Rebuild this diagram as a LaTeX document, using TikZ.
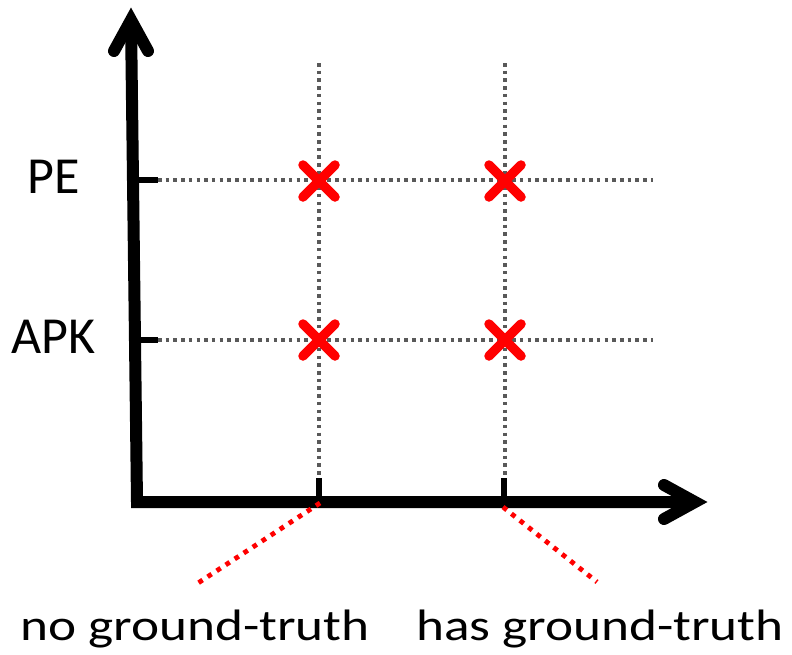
\documentclass[tikz,border=0pt]{standalone}
\usepackage{fontspec}
\setmainfont{Carlito}
\definecolor{dotgray}{RGB}{89,89,89}
\begin{document}
\begin{tikzpicture}[x=1pt,y=-1pt,
  axis/.style={line width=12pt,line cap=butt,line join=miter},
  head/.style={line width=12pt,line cap=round,line join=miter,miter limit=10},
  tickmark/.style={line width=6pt},
  gridline/.style={line width=3.5pt,color=dotgray,dash pattern=on 3.5pt off 4.2pt},
  cross/.style={line width=9.5pt,color=red,line cap=round},
  link/.style={line width=4.8pt,color=red,dash pattern=on 4.8pt off 6pt},
  lab/.style={font=\fontsize{52}{60}\selectfont,anchor=base,inner sep=0pt},
  cat/.style={font=\fontsize{44}{52}\selectfont,anchor=base,inner sep=0pt,xscale=1.21}]
\useasboundingbox[fill=white] (0,0) rectangle (792,654);
% axes
\coordinate (O) at (137,502);
\coordinate (ytop) at (131,20);
\coordinate (xend) at (695,502);
\draw[axis] (ytop) -- (O) -- (xend);
\draw[head] (114,51) -- (ytop) -- (148,51);
\draw[head] (664,485) -- (xend) -- (664,519);
% dotted grid
\draw[gridline] (158,180) -- (653,180);
\draw[gridline] (158,340) -- (653,340);
\draw[gridline] (319,63) -- (319,478);
\draw[gridline] (505,63) -- (505,478);
% ticks
\draw[tickmark] (134,180) -- (158,180);
\draw[tickmark] (135,340) -- (158,340);
\draw[tickmark] (319,478) -- (319,497);
\draw[tickmark] (504,478) -- (504,497);
% crosses
\foreach \cx/\cy in {319/181,505/181,319/340,505/340}{
  \draw[cross] (\cx,\cy) ++(-16,-16) -- ++(32,32) (\cx,\cy) ++(16,-16) -- ++(-32,32);
}
% labels
\node[lab] (pe) at (53.5,193) {PE};
\node[lab] (apk) at (53.5,353) {APK};
\node[cat] (nogt) at (195,640) {no ground-truth};
\node[cat] (hasgt) at (600,640) {has ground-truth};
% red links
\coordinate (t1) at (320,503);
\coordinate (t2) at (503,507);
\coordinate (e1) at (195,585);
\coordinate (e2) at (597,582);
\draw[link] (t1) -- (e1);
\draw[link] (t2) -- (e2);
\end{tikzpicture}
\end{document}
